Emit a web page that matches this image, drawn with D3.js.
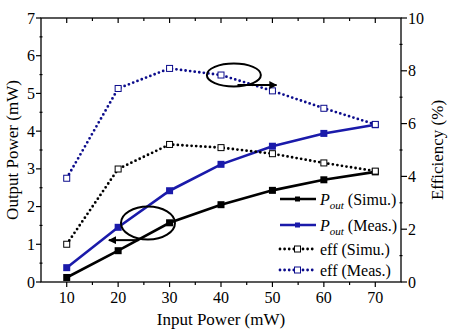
<!DOCTYPE html>
<html>
<head>
<meta charset="utf-8">
<script src="https://cdn.jsdelivr.net/npm/d3@7"></script>
<style>
  body { margin: 0; background: #fff; }
</style>
</head>
<body>
<svg id="chart" width="453" height="334" font-family="'Liberation Serif', Tinos, 'Times New Roman', serif"></svg>
<script>
// input power (mW)
const inputPower = [10, 20, 30, 40, 50, 60, 70];
// output power (mW), left axis
const poutSimu = [0.12, 0.83, 1.57, 2.05, 2.43, 2.71, 2.92];
const poutMeas = [0.38, 1.45, 2.42, 3.12, 3.60, 3.94, 4.17];
// efficiency (%), right axis
const effSimu = [1.43, 4.28, 5.21, 5.09, 4.86, 4.51, 4.20];
const effMeas = [3.93, 7.33, 8.09, 7.84, 7.24, 6.58, 5.97];

const xTicks = [10, 20, 30, 40, 50, 60, 70];
const leftTicks = [0, 1, 2, 3, 4, 5, 6, 7];
const rightTicks = [0, 2, 4, 6, 8, 10];

const svg = d3.select('#chart');
const plotL = 41, plotR = 401, plotT = 18, plotB = 282;

const x = d3.scaleLinear().domain([5, 75]).range([plotL, plotR]);
const yL = d3.scaleLinear().domain([0, 7]).range([plotB, plotT]);
const yR = d3.scaleLinear().domain([0, 10]).range([plotB, plotT]);

const blue = '#1a1aaa';
const navy = '#0c0c8c';

// frame
svg.append('rect')
  .attr('x', plotL).attr('y', plotT)
  .attr('width', plotR - plotL).attr('height', plotB - plotT)
  .attr('fill', 'none').attr('stroke', '#000').attr('stroke-width', 1.3);

// bottom and top ticks
const gx = svg.append('g');
d3.range(10, 75, 5).forEach(v => {
  const major = v % 10 == 0;
  gx.append('line')
    .attr('x1', x(v)).attr('x2', x(v))
    .attr('y1', plotB).attr('y2', plotB + (major ? 5 : 3))
    .attr('stroke', '#000').attr('stroke-width', 1.2);
  gx.append('line')
    .attr('x1', x(v)).attr('x2', x(v))
    .attr('y1', plotT).attr('y2', plotT + (major ? 5 : 3))
    .attr('stroke', '#000').attr('stroke-width', 1.2);
});
gx.selectAll('.xlab').data(xTicks).enter().append('text')
  .attr('x', d => x(d)).attr('y', 303)
  .attr('text-anchor', 'middle').attr('font-size', 16)
  .text(d => d);

// left axis
const gl = svg.append('g');
d3.range(0, 7.01, 0.5).forEach(v => {
  const major = Math.abs(v - Math.round(v)) < 1e-6;
  gl.append('line')
    .attr('x1', major ? plotL - 5 : plotL - 1.5).attr('x2', major ? plotL : plotL + 1.5)
    .attr('y1', yL(v)).attr('y2', yL(v))
    .attr('stroke', '#000').attr('stroke-width', 1.2);
});
gl.selectAll('.ylab').data(leftTicks).enter().append('text')
  .attr('x', plotL - 6).attr('y', d => yL(d) + 5.5)
  .attr('text-anchor', 'end').attr('font-size', 16)
  .text(d => d);

// right axis
const gr = svg.append('g');
d3.range(0, 10.01, 1).forEach(v => {
  const major = v % 2 == 0;
  gr.append('line')
    .attr('x1', major ? plotR : plotR - 1.5).attr('x2', major ? plotR + 6 : plotR + 1.5)
    .attr('y1', yR(v)).attr('y2', yR(v))
    .attr('stroke', '#000').attr('stroke-width', 1.2);
});
gr.selectAll('.rlab').data(rightTicks).enter().append('text')
  .attr('x', plotR + 7).attr('y', d => yR(d) + 5.5)
  .attr('font-size', 16)
  .text(d => d);

// axis titles
svg.append('text')
  .attr('x', (plotL + plotR) / 2).attr('y', 325)
  .attr('text-anchor', 'middle').attr('font-size', 17)
  .text('Input Power (mW)');
svg.append('text')
  .attr('transform', 'translate(18,' + ((plotT + plotB) / 2) + ') rotate(-90)')
  .attr('text-anchor', 'middle').attr('font-size', 17)
  .text('Output Power (mW)');
svg.append('text')
  .attr('transform', 'translate(443,' + ((plotT + plotB) / 2) + ') rotate(-90)')
  .attr('text-anchor', 'middle').attr('font-size', 17)
  .text('Efficiency (%)');

// series
const series = [
  {name: 'poutSimu', values: poutSimu, y: yL, color: '#000', dotted: false},
  {name: 'poutMeas', values: poutMeas, y: yL, color: blue, dotted: false},
  {name: 'effSimu', values: effSimu, y: yR, color: '#000', dotted: true},
  {name: 'effMeas', values: effMeas, y: yR, color: navy, dotted: true}
];

series.forEach(s => {
  const line = d3.line()
    .x((d, i) => x(inputPower[i]))
    .y(d => s.y(d));
  const path = svg.append('path')
    .attr('d', line(s.values))
    .attr('fill', 'none')
    .attr('stroke', s.color);
  if(s.dotted){
    path.attr('stroke-width', 2.8)
      .attr('stroke-linecap', 'round')
      .attr('stroke-dasharray', '0,4.6');
  }else{
    path.attr('stroke-width', 2.6);
  }
  svg.selectAll('.m_' + s.name).data(s.values).enter().append('rect')
    .attr('x', (d, i) => x(inputPower[i]) - (s.dotted ? 3 : 3.5))
    .attr('y', d => s.y(d) - (s.dotted ? 3 : 3.5))
    .attr('width', s.dotted ? 6 : 7)
    .attr('height', s.dotted ? 6 : 7)
    .attr('fill', s.dotted ? '#fff' : s.color)
    .attr('stroke', s.dotted ? s.color : 'none')
    .attr('stroke-width', 1);
});

// annotations: ellipses with arrows
svg.append('ellipse')
  .attr('cx', x(42.5)).attr('cy', yR(7.84))
  .attr('rx', 27).attr('ry', 11.5)
  .attr('fill', 'none').attr('stroke', '#000').attr('stroke-width', 2);
svg.append('ellipse')
  .attr('cx', x(25.8)).attr('cy', yL(1.565))
  .attr('rx', 27).attr('ry', 16.5)
  .attr('fill', 'none').attr('stroke', '#000').attr('stroke-width', 2);

svg.append('defs').append('marker')
  .attr('id', 'arrow')
  .attr('viewBox', '0 0 10 10')
  .attr('refX', 9).attr('refY', 5)
  .attr('markerWidth', 4).attr('markerHeight', 4)
  .attr('markerUnits', 'strokeWidth')
  .attr('orient', 'auto')
  .append('path').attr('d', 'M0,0 L10,5 L0,10 z').attr('fill', '#000');

svg.append('line')
  .attr('x1', x(43.2)).attr('x2', x(50.8))
  .attr('y1', yR(7.46)).attr('y2', yR(7.46))
  .attr('stroke', '#000').attr('stroke-width', 2)
  .attr('marker-end', 'url(#arrow)');
svg.append('line')
  .attr('x1', x(24.0)).attr('x2', x(18.2))
  .attr('y1', yL(1.11)).attr('y2', yL(1.11))
  .attr('stroke', '#000').attr('stroke-width', 2)
  .attr('marker-end', 'url(#arrow)');

// legend
const legendRows = [
  {s: series[0], sim: true, y: 199},
  {s: series[1], sim: false, y: 225},
  {s: series[2], sim: true, y: 249},
  {s: series[3], sim: false, y: 270}
];
const lg = svg.append('g');
legendRows.forEach(r => {
  const l = lg.append('line')
    .attr('x1', 280).attr('x2', 316)
    .attr('y1', r.y).attr('y2', r.y)
    .attr('stroke', r.s.color);
  if(r.s.dotted){
    l.attr('stroke-width', 2.8).attr('stroke-linecap', 'round').attr('stroke-dasharray', '0,4.6');
    lg.append('rect').attr('x', 294.5).attr('y', r.y - 3)
      .attr('width', 6).attr('height', 6)
      .attr('fill', '#fff').attr('stroke', r.s.color).attr('stroke-width', 1);
  }else{
    l.attr('stroke-width', 2.6);
    lg.append('rect').attr('x', 295).attr('y', r.y - 2.5)
      .attr('width', 5).attr('height', 5)
      .attr('fill', r.s.color);
  }
  const t = lg.append('text')
    .attr('x', 320).attr('y', r.y + 5.5)
    .attr('font-size', 16);
  const label = r.sim ? ' (Simu.)' : ' (Meas.)';
  if(r.s.dotted){
    t.text('eff' + label);
  }else{
    t.append('tspan').attr('font-style', 'italic').text('P');
    t.append('tspan').attr('font-style', 'italic').attr('font-size', 11).attr('dy', 4).text('out');
    t.append('tspan').attr('dy', -4).text(label);
  }
});
</script>
</body>
</html>
